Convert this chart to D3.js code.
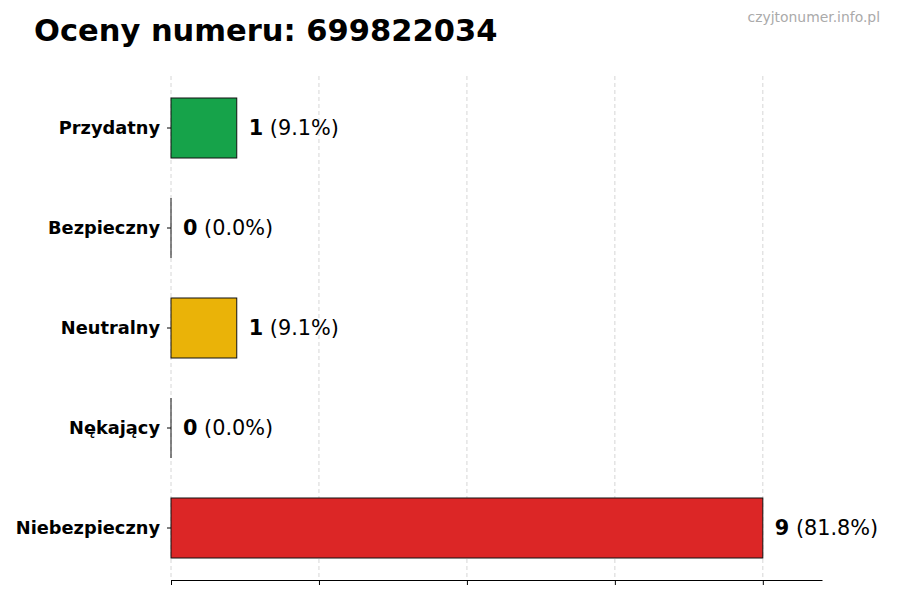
<!DOCTYPE html>
<html>
<head>
<meta charset="utf-8">
<script src="https://cdn.jsdelivr.net/npm/d3@7"></script>
<style>
  body { margin: 0; background: #fff; }
  text { font-family: "DejaVu Sans", sans-serif; }
</style>
</head>
<body>
<script>
// chart data
const categories = ["Przydatny", "Bezpieczny", "Neutralny", "Nękający", "Niebezpieczny"];
const counts = [1, 0, 1, 0, 9];
const percents = ["9.1%", "0.0%", "9.1%", "0.0%", "81.8%"];
const colors = ["#16a34a", "#22c55e", "#eab308", "#f97316", "#dc2626"];
const xTicks = [0, 2.25, 4.5, 6.75, 9];

const titleText = "Oceny numeru: 699822034";
const watermark = "czyjtonumer.info.pl";

const W = 900, H = 600;
const margin = {top: 76, right: 78, bottom: 20, left: 171};
const width = W - margin.left - margin.right,
      height = H - margin.top - margin.bottom;

const svg = d3.select("body").append("svg")
  .attr("width", W)
  .attr("height", H);

svg.append("text")
  .attr("x", 34)
  .attr("y", 41)
  .attr("font-size", 30.5)
  .attr("font-weight", "bold")
  .text(titleText);

svg.append("text")
  .attr("x", 880)
  .attr("y", 22)
  .attr("text-anchor", "end")
  .attr("font-size", 13.9)
  .attr("fill", "#aaaaaa")
  .text(watermark);

const g = svg.append("g")
  .attr("transform", "translate(" + margin.left + "," + margin.top + ")");

const x = d3.scaleLinear()
  .domain([0, d3.max(counts) * 1.1])
  .range([0, width]);

const y = d3.scaleBand()
  .domain(categories)
  .range([0, height])
  .paddingInner(0.4)
  .paddingOuter(0.22);

// grid
g.selectAll(".grid")
  .data(xTicks)
  .enter().append("line")
  .attr("x1", d => x(d))
  .attr("x2", d => x(d))
  .attr("y1", 0)
  .attr("y2", height)
  .attr("stroke", "#cccccc")
  .attr("stroke-width", 0.8)
  .attr("stroke-dasharray", "4,3");

// bottom axis, ticks only
const xAxis = g.append("g")
  .attr("transform", "translate(0," + height + ")")
  .call(d3.axisBottom(x).tickValues(xTicks).tickFormat("").tickSize(5).tickSizeOuter(0));
xAxis.select(".domain").attr("stroke", "#000").attr("stroke-width", 1.2);
xAxis.selectAll(".tick line").attr("stroke", "#000");

// left axis, labels and tick marks only
const yAxis = g.append("g")
  .call(d3.axisLeft(y).tickSize(4).tickPadding(7));
yAxis.select(".domain").remove();
yAxis.selectAll(".tick line").attr("stroke", "#000");
yAxis.selectAll(".tick text")
  .attr("font-size", 17.8)
  .attr("font-weight", "bold")
  .attr("fill", "#000")
  .style("font-family", "DejaVu Sans, sans-serif");

// bars
g.selectAll(".bar")
  .data(categories)
  .enter().append("rect")
  .attr("x", x(0))
  .attr("y", d => y(d))
  .attr("width", (d, i) => x(counts[i]) - x(0))
  .attr("height", y.bandwidth())
  .attr("fill", (d, i) => colors[i])
  .attr("stroke", "#111")
  .attr("stroke-width", 1);

// zero-width bars still show their edge
g.selectAll(".zero")
  .data(categories.filter((d, i) => counts[i] === 0))
  .enter().append("line")
  .attr("x1", x(0))
  .attr("x2", x(0))
  .attr("y1", d => y(d))
  .attr("y2", d => y(d) + y.bandwidth())
  .attr("stroke", "#111")
  .attr("stroke-width", 1);

// value labels
const lbl = g.selectAll(".lbl")
  .data(categories)
  .enter().append("text")
  .attr("x", (d, i) => x(counts[i]) + 12)
  .attr("y", d => y(d) + y.bandwidth() / 2)
  .attr("dy", "0.35em")
  .attr("font-size", 20.8);
lbl.append("tspan")
  .attr("font-weight", "bold")
  .text((d, i) => counts[i]);
lbl.append("tspan")
  .text((d, i) => " (" + percents[i] + ")");
</script>
</body>
</html>
